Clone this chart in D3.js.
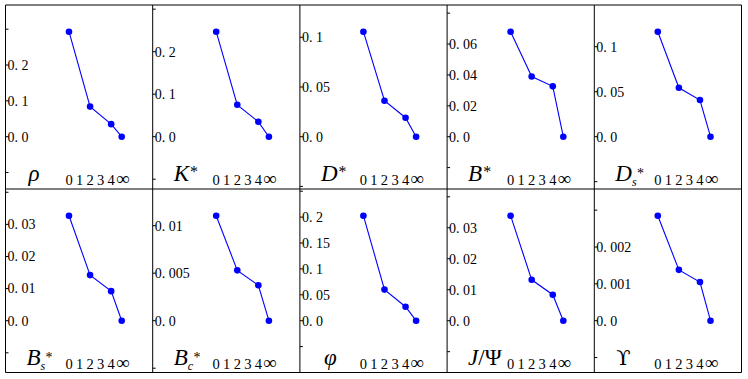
<!DOCTYPE html>
<html>
<head>
<meta charset="utf-8">
<script src="https://cdn.jsdelivr.net/npm/d3@7"></script>
<style>
  html, body { margin: 0; padding: 0; background: #fff; }
  svg { display: block; }
</style>
</head>
<body>
<svg id="chart" width="748" height="379"></svg>
<script>
// ---------- data ----------
const xPositions = [0, 2, 4, 5];            // 5 stands for infinity
const xTickValues = [0, 1, 2, 3, 4, 5];
const xTickLabels = ["0", "1", "2", "3", "4", "\u221E"];

const rhoValues   = [0.293, 0.084, 0.035, 0];
const kStarValues = [0.247, 0.075, 0.035, 0];
const dStarValues = [0.1056, 0.0362, 0.0191, 0];
const bStarValues = [0.068, 0.039, 0.0326, 0];
const dsStarValues = [0.1167, 0.0544, 0.0408, 0];
const bsStarValues = [0.0327, 0.0142, 0.0092, 0];
const bcStarValues = [0.01105, 0.0053, 0.00373, 0];
const phiValues   = [0.2027, 0.060, 0.027, 0];
const jpsiValues  = [0.0339, 0.0132, 0.0084, 0];
const upsValues   = [0.00285, 0.00138, 0.00105, 0];

const rhoTicks   = [-0.1, 0, 0.1, 0.2, 0.3];
const kStarTicks = [-0.1, 0, 0.1, 0.2, 0.3];
const dStarTicks = [-0.05, 0, 0.05, 0.1];
const bStarTicks = [-0.02, 0, 0.02, 0.04, 0.06, 0.08];
const dsStarTicks = [-0.05, 0, 0.05, 0.1];
const bsStarTicks = [-0.01, 0, 0.01, 0.02, 0.03, 0.04];
const bcStarTicks = [-0.005, 0, 0.005, 0.01];
const phiTicks   = [-0.1, -0.05, 0, 0.05, 0.1, 0.15, 0.2, 0.25];
const jpsiTicks  = [-0.01, 0, 0.01, 0.02, 0.03, 0.04];
const upsTicks   = [-0.001, 0, 0.001, 0.002, 0.003];

// particle labels: main symbol, subscript, superscript
const labelMain = ["\u03C1", "K", "D", "B", "D", "B", "B", "\u03C6", "J", "\u03D2"];
const labelSub  = ["", "", "", "", "s", "s", "c", "", "", ""];
const labelSup  = ["", "*", "*", "*", "*", "*", "*", "", "", ""];

const panels = [
  { values: rhoValues,    ticks: rhoTicks },
  { values: kStarValues,  ticks: kStarTicks },
  { values: dStarValues,  ticks: dStarTicks },
  { values: bStarValues,  ticks: bStarTicks },
  { values: dsStarValues, ticks: dsStarTicks },
  { values: bsStarValues, ticks: bsStarTicks },
  { values: bcStarValues, ticks: bcStarTicks },
  { values: phiValues,    ticks: phiTicks },
  { values: jpsiValues,   ticks: jpsiTicks },
  { values: upsValues,    ticks: upsTicks }
];

// ---------- layout ----------
const svg = d3.select("#chart");
const gLeft = 5.5, gRight = 741.5, gTop = 5, gMid = 189, gBottom = 372.5;
const cols = 5;
const colW = (gRight - gLeft) / cols;
const rowTops = [gTop, gMid];
const rowHs = [gMid - gTop, gBottom - gMid];

const serif = "Liberation Serif, DejaVu Serif, serif";

function fmt(t) {
  let s = String(+t.toFixed(6));
  if (s === "0") s = "0.0";
  return s.replace(".", ". ");
}

function drawName(g, i) {
  const base = 175.5;
  let x0 = (i === 0) ? 23 : (i === 7 ? 24 : (i === 9 ? 22 : 21));
  const main = g.append("text")
    .attr("x", x0).attr("y", base)
    .attr("font-family", i === 9 ? "DejaVu Serif, serif" : serif)
    .attr("font-size", i === 9 ? 21 : 23)
    .attr("font-style", i === 9 ? "normal" : "italic")
    .attr("fill", "#000");
  main.append("tspan").text(labelMain[i]);
  if (i === 8) main.append("tspan").attr("font-style", "normal").text("/\u03A8");
  const w = main.node().getComputedTextLength();
  const sx = x0 + w + 1;
  let subW = 0;
  if (labelSub[i]) {
    const st = g.append("text").attr("x", sx - 1).attr("y", base + 5)
      .attr("font-family", serif).attr("font-size", 12)
      .attr("font-style", "italic").attr("fill", "#000")
      .text(labelSub[i]);
    subW = st.node().getComputedTextLength();
  }
  if (labelSup[i]) {
    const single = !labelSub[i];
    g.append("text").attr("x", single ? sx : sx - 1 + subW + 0.3)
      .attr("y", single ? base - 3.5 : base - 3)
      .attr("font-family", serif).attr("font-size", single ? 16 : 14)
      .attr("fill", "#000")
      .text(labelSup[i]);
  }
}

panels.forEach((p, i) => {
  const r = Math.floor(i / cols), c = i % cols;
  const gx = gLeft + c * colW, gy = rowTops[r], gh = rowHs[r];
  const g = svg.append("g").attr("transform", `translate(${gx},${gy})`);

  const maxV = d3.max(p.values);
  const x = d3.scaleLinear().domain([0, 5]).range([63.5, 116.2]);
  const y = d3.scaleLinear().domain([0, maxV]).range([131.7, 26.7]);

  const vis = p.ticks.filter(t => y(t) >= 0 && y(t) <= gh);
  g.selectAll("line.tick").data(vis).enter().append("line")
    .attr("x1", 0).attr("x2", 3)
    .attr("y1", d => y(d)).attr("y2", d => y(d))
    .attr("stroke", "#000").attr("stroke-width", 1);
  g.selectAll("text.ytl").data(vis.filter(t => t >= 0 && t <= maxV + 1e-12)).enter()
    .append("text")
    .attr("x", 2).attr("y", d => y(d))
    .attr("dy", "0.35em")
    .attr("font-family", serif).attr("font-size", 14)
    .attr("fill", "#000")
    .text(d => fmt(d));

  g.selectAll("text.xtl").data(xTickValues).enter().append("text")
    .attr("x", d => x(d) + (d === 5 ? 1 : 0)).attr("y", 180)
    .attr("text-anchor", "middle")
    .attr("font-family", serif)
    .attr("font-size", d => d === 5 ? 19 : 14.5)
    .attr("fill", "#000")
    .text((d, k) => xTickLabels[k]);

  const pts = p.values.map((v, k) => [xPositions[k], v]);
  g.append("path").datum(pts)
    .attr("d", d3.line().x(d => x(d[0])).y(d => y(d[1])))
    .attr("fill", "none").attr("stroke", "#0000ff").attr("stroke-width", 1.1);
  g.selectAll("circle").data(pts).enter().append("circle")
    .attr("cx", d => x(d[0])).attr("cy", d => y(d[1]))
    .attr("r", 3.3).attr("fill", "#0000ff");

  drawName(g, i);
});

const frame = svg.append("g").attr("stroke", "#000").attr("stroke-width", 1).attr("fill", "none");
[gTop, gMid, gBottom].forEach(yy => frame.append("line")
  .attr("x1", gLeft).attr("x2", gRight).attr("y1", yy).attr("y2", yy));
d3.range(cols + 1).forEach(k => frame.append("line")
  .attr("x1", gLeft + k * colW).attr("x2", gLeft + k * colW)
  .attr("y1", gTop).attr("y2", gBottom));
</script>
</body>
</html>
